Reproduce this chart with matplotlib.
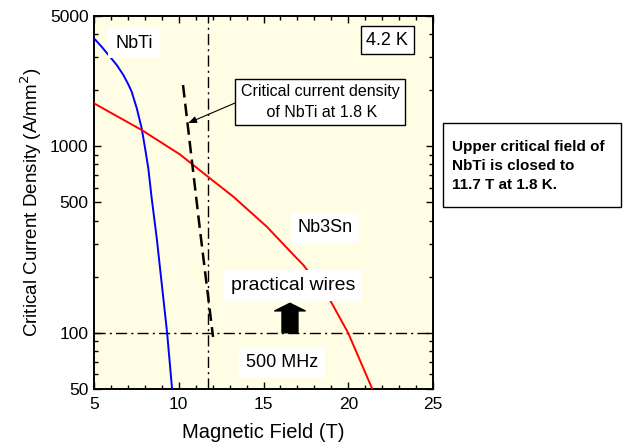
import matplotlib
matplotlib.use("Agg")
import matplotlib.pyplot as plt
from matplotlib.patches import Rectangle
from matplotlib.ticker import FixedLocator, NullFormatter, LogLocator

plt.rcParams['font.family'] = ['Liberation Sans', 'DejaVu Sans']

# NbTi at 4.2 K
nbti_B = [5.0, 5.45, 5.94, 6.34, 6.73, 7.02, 7.22, 7.52, 7.81, 8.01, 8.20, 8.40, 8.70, 9.31, 9.62]
nbti_J = [3796, 3421, 3025, 2731, 2414, 2151, 1964, 1600, 1250, 977, 763, 527, 321, 100, 48]
# Nb3Sn at 4.2 K
nb3sn_B = [5.0, 7.81, 10.07, 11.74, 13.22, 15.19, 16.96, 17.35, 18.92, 19.99, 21.5]
nb3sn_J = [1701, 1224, 905, 685, 537, 371, 251, 231, 150, 100, 48]
# NbTi at 1.8 K
nbti18_B = [10.25, 11.25, 12.02]
nbti18_J = [2133, 356, 95]

Bc2_18 = 11.7
J_practical = 100

xticks = [5, 10, 15, 20, 25]
yticks = [50, 100, 500, 1000, 5000]

fig = plt.figure(figsize=(6.23, 4.47), dpi=100)
ax = fig.add_axes([0.151, 0.130, 0.544, 0.834])
ax.set_facecolor('#FFFDE3')

ax.plot(nbti_B, nbti_J, color='#0000FF', lw=1.4, zorder=3)
ax.plot(nb3sn_B, nb3sn_J, color='#FF0000', lw=1.4, zorder=3)
ax.plot(nbti18_B, nbti18_J, color='black', lw=1.8, ls=(0, (5, 2.5)), zorder=3)
ax.axvline(Bc2_18, color='black', lw=1.0, ls=(0, (8, 3, 1.5, 3)), zorder=2)
ax.axhline(J_practical, color='black', lw=1.0, ls=(0, (8, 3, 1.5, 3)), zorder=2)

ax.set_yscale('log')
ax.set_xlim(5, 25)
ax.set_ylim(50, 5000)
ax.set_xticks(xticks)
ax.set_xticklabels([str(v) for v in xticks])
ax.xaxis.set_minor_locator(FixedLocator(range(5, 26)))
ax.yaxis.set_major_locator(FixedLocator(yticks))
ax.set_yticklabels([str(v) for v in yticks])
ax.yaxis.set_minor_locator(LogLocator(base=10, subs=range(1, 10)))
ax.yaxis.set_minor_formatter(NullFormatter())
ax.tick_params(which='both', direction='in', top=True, right=True, width=1.0)
ax.tick_params(which='major', length=5, labelsize=12.5)
ax.tick_params(axis='x', which='major', pad=6)
ax.tick_params(axis='y', which='major', pad=4)
ax.tick_params(which='minor', length=3)
for s in ax.spines.values():
    s.set_linewidth(1.4)

ax.set_xlabel('Magnetic Field (T)', fontsize=14.5, labelpad=8)
ax.set_ylabel('Critical Current Density (A/mm$^2$)', fontsize=13.5, labelpad=4)

wb = dict(facecolor='white', edgecolor='none', pad=5)
ax.text(7.36, 3582, 'NbTi', fontsize=13, ha='center', va='center', bbox=wb, zorder=4)
ax.text(18.63, 365, 'Nb3Sn', fontsize=13, ha='center', va='center', bbox=wb, zorder=4)
ax.text(16.74, 180, 'practical wires', fontsize=14, ha='center', va='center', bbox=wb, zorder=4)
ax.text(16.09, 69, '500 MHz', fontsize=13, ha='center', va='center', bbox=wb, zorder=4)
ax.text(22.29, 3718, '4.2 K', fontsize=13, ha='center', va='center',
        bbox=dict(facecolor='white', edgecolor='black', lw=1.0, pad=4), zorder=4)
ax.text(18.33, 1729, 'Critical current density\n of NbTi at 1.8 K', fontsize=11.5,
        ha='center', va='center', multialignment='center', linespacing=1.45,
        bbox=dict(facecolor='white', edgecolor='black', lw=1.0, pad=4), zorder=4)
ax.annotate('', xy=(10.55, 1334), xytext=(13.32, 1709),
            arrowprops=dict(arrowstyle='-|>,head_length=0.5,head_width=0.2', color='black',
                            lw=0.8, shrinkA=0, shrinkB=0), zorder=4)
ax.annotate('', xy=(16.56, 144), xytext=(16.56, 100),
            arrowprops=dict(arrowstyle='simple,head_length=0.55,head_width=2.2,tail_width=1.15',
                            color='black', shrinkA=0, shrinkB=0, mutation_scale=10), zorder=4)

# right-side note box
W, H = 623, 447
fig.patches.append(Rectangle((443 / W, 1 - 207 / H), 178 / W, 84 / H, transform=fig.transFigure,
                             facecolor='white', edgecolor='black', lw=1.0))
fig.text(452 / W, 1 - 166 / H, 'Upper critical field of\nNbTi is closed to\n11.7 T at 1.8 K.',
         fontsize=11, fontweight='bold', ha='left', va='center', linespacing=1.45)

fig.savefig('out.png', dpi=100)
